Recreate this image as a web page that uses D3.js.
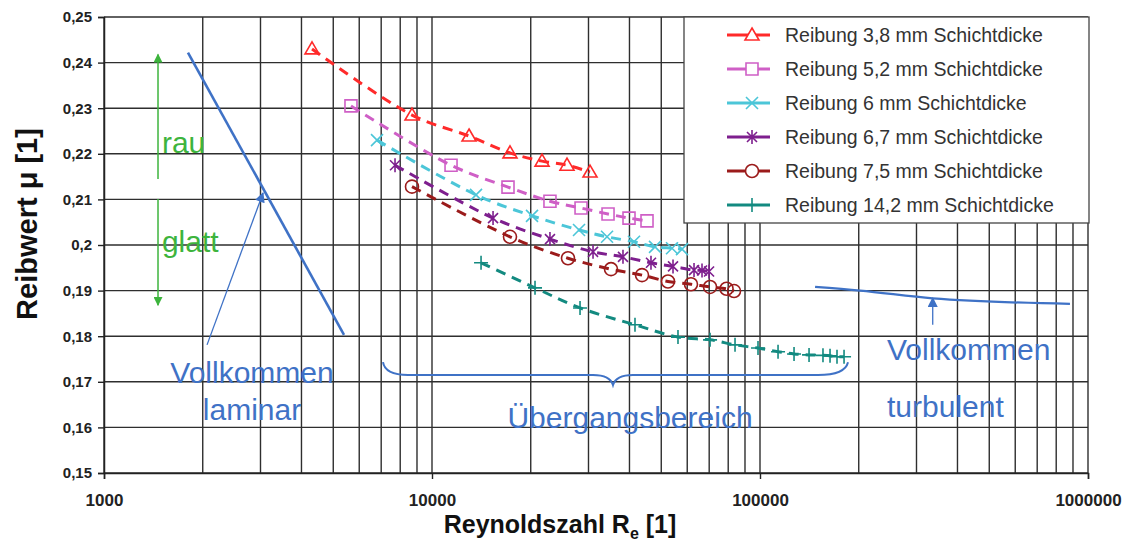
<!DOCTYPE html>
<html><head><meta charset="utf-8">
<script src="https://cdn.jsdelivr.net/npm/d3@7"></script>
<style>
html,body{margin:0;padding:0;background:#fff;}
svg{display:block;font-family:"Liberation Sans",Arial,sans-serif;}
</style></head>
<body>
<svg id="chart" width="1128" height="545"></svg>
<script>
// ---------- data ----------
const seriesNames = ["Reibung 3,8 mm Schichtdicke","Reibung 5,2 mm Schichtdicke","Reibung 6 mm Schichtdicke","Reibung 6,7 mm Schichtdicke","Reibung 7,5 mm Schichtdicke","Reibung 14,2 mm Schichtdicke"];
const re38 = [4307, 8690, 12970, 17290, 21650, 25800, 30320];
const mu38 = [0.2430, 0.2285, 0.2239, 0.2202, 0.2184, 0.2175, 0.2160];
const re52 = [5662, 11430, 17050, 22890, 28470, 34410, 39870, 45240];
const mu52 = [0.2305, 0.2175, 0.2127, 0.2096, 0.2081, 0.2068, 0.2059, 0.2053];
const re60 = [6798, 13620, 20180, 28070, 34170, 41290, 47860, 53920, 57840];
const mu60 = [0.2230, 0.2110, 0.2064, 0.2033, 0.2018, 0.2007, 0.1996, 0.1993, 0.1991];
const re67 = [7714, 15350, 22890, 30970, 38220, 46520, 54300, 62930, 66560, 69930];
const mu67 = [0.2175, 0.2059, 0.2013, 0.1985, 0.1974, 0.1961, 0.1953, 0.1945, 0.1944, 0.1942];
const re75 = [8690, 17290, 25980, 35140, 43680, 52420, 61600, 70420, 79070, 83330];
const mu75 = [0.2128, 0.2018, 0.1971, 0.1947, 0.1934, 0.1920, 0.1914, 0.1908, 0.1904, 0.1899];
const re142 = [14110, 20610, 28270, 41580, 56230, 70420, 83920, 98610, 113500, 126990, 141100, 155600, 163500, 171700, 180400];
const mu142 = [0.1961, 0.1906, 0.1862, 0.1825, 0.1798, 0.1792, 0.1781, 0.1774, 0.1766, 0.1761, 0.1759, 0.1758, 0.1757, 0.1755, 0.1755];

const yTickValues = [0.15,0.16,0.17,0.18,0.19,0.20,0.21,0.22,0.23,0.24,0.25];
const yTickLabels = ["0,15","0,16","0,17","0,18","0,19","0,2","0,21","0,22","0,23","0,24","0,25"];
const xTickValues = [1000,10000,100000,1000000];
const xTickLabels = ["1000","10000","100000","1000000"];

// annotations (data coordinates)
const laminarLine = [[1803,0.2422],[5392,0.1803]];
const laminarArrow = [[2061,0.1781],[3054,0.2114]];
const turbulentLine = [[147200,0.1908],[201800,0.1900],[336200,0.1883],[881000,0.1871]];
const turbulentArrow = [[336200,0.1825],[336200,0.1884]];
const roughSmoothX = 1461;
const roughSmoothY = [0.2418, 0.2145, 0.2101, 0.1868];
const brace = {left:7089, mid:35630, right:185500, top:0.1743, base:0.1715, tip:0.1693};
const annotTexts = [
  {t:"Vollkommen", x:2826, y:0.1697, anchor:"middle", c:"blue"},
  {t:"laminar", x:2826, y:0.1616, anchor:"middle", c:"blue"},
  {t:"Übergangsbereich", x:40150, y:0.1599, anchor:"middle", c:"blue"},
  {t:"Vollkommen", x:243900, y:0.1748, anchor:"start", c:"blue"},
  {t:"turbulent", x:243900, y:0.1623, anchor:"start", c:"blue"},
  {t:"rau", x:1502, y:0.2202, anchor:"start", c:"green"},
  {t:"glatt", x:1502, y:0.1985, anchor:"start", c:"green"}
];

// ---------- setup ----------
const svg = d3.select("#chart");
const L=104, R=1088, T=17, B=473;
const x = d3.scaleLog().domain([1000,1000000]).range([L,R]);
const y = d3.scaleLinear().domain([0.15,0.25]).range([B,T]);
const gridColor = "#2e2e2e";
const blue = "#3f72c6", green = "#3db43d";

// grid verticals (log minor)
const vGrid = [];
for (let d=1000; d<1000000; d*=10) for (let k=1;k<=9;k++) vGrid.push(d*k);
vGrid.push(1000000);
svg.append("g").selectAll("line").data(vGrid).join("line")
  .attr("x1",d=>x(d)).attr("x2",d=>x(d)).attr("y1",T).attr("y2",B)
  .attr("stroke",gridColor).attr("stroke-width",1.4);
svg.append("g").selectAll("line").data(yTickValues).join("line")
  .attr("x1",L).attr("x2",R).attr("y1",d=>y(d)).attr("y2",d=>y(d))
  .attr("stroke",gridColor).attr("stroke-width",1.4);

// axes
const yAxis = d3.axisLeft(y).tickValues(yTickValues).tickFormat((d,i)=>yTickLabels[i]).tickSize(6).tickPadding(6);
const gy = svg.append("g").attr("transform",`translate(${L},0)`).call(yAxis);
gy.select(".domain").attr("stroke","#222").attr("stroke-width",1.5);
gy.selectAll(".tick line").attr("stroke","#222").attr("stroke-width",1.4);
gy.selectAll("text").attr("font-size",15).attr("font-weight","bold").attr("fill","#222")
  .attr("font-family","Liberation Sans, Arial, sans-serif");

const xAxis = d3.axisBottom(x).tickValues(xTickValues).tickFormat((d,i)=>xTickLabels[i]).tickSize(6).tickPadding(15);
const gx = svg.append("g").attr("transform",`translate(0,${B})`).call(xAxis);
gx.select(".domain").attr("stroke","#222").attr("stroke-width",1.5);
gx.selectAll(".tick line").attr("stroke","#222").attr("stroke-width",1.4);
gx.selectAll("text").attr("font-size",17).attr("font-weight","bold").attr("fill","#222")
  .attr("font-family","Liberation Sans, Arial, sans-serif");

// axis titles
svg.append("text").attr("transform",`translate(37,224) rotate(-90)`).attr("text-anchor","middle")
  .attr("font-size",29).attr("font-weight","bold").attr("fill","#111").text("Reibwert  μ [1]");
const xt = svg.append("text").attr("x",560).attr("y",533).attr("text-anchor","middle")
  .attr("font-size",25).attr("font-weight","bold").attr("fill","#111");
xt.append("tspan").text("Reynoldszahl R");
xt.append("tspan").attr("font-size",16).attr("dy",6).text("e");
xt.append("tspan").attr("dy",-6).text(" [1]");

// ---------- annotations ----------
const defs = svg.append("defs");
function arrowMarker(id,color,w,h){
  defs.append("marker").attr("id",id).attr("viewBox","0 0 10 10").attr("refX",9).attr("refY",5)
    .attr("markerWidth",w).attr("markerHeight",h).attr("markerUnits","userSpaceOnUse").attr("orient","auto")
    .append("path").attr("d","M0,0L10,5L0,10z").attr("fill",color);
}
arrowMarker("ab",blue,13,10);
arrowMarker("ag",green,12,9);

const lineGen = d3.line().x(d=>x(d[0])).y(d=>y(d[1]));
svg.append("path").attr("d",lineGen(laminarLine)).attr("stroke",blue).attr("stroke-width",2.6).attr("fill","none");
svg.append("path").attr("d",lineGen(laminarArrow)).attr("stroke",blue).attr("stroke-width",1.3).attr("fill","none").attr("marker-end","url(#ab)");
svg.append("path").attr("d",lineGen.curve(d3.curveMonotoneX)(turbulentLine)).attr("stroke",blue).attr("stroke-width",2.2).attr("fill","none");
lineGen.curve(d3.curveLinear);
svg.append("path").attr("d",lineGen(turbulentArrow)).attr("stroke",blue).attr("stroke-width",1.3).attr("fill","none").attr("marker-end","url(#ab)");
// green double arrow
svg.append("line").attr("x1",x(roughSmoothX)).attr("x2",x(roughSmoothX)).attr("y1",y(roughSmoothY[1])).attr("y2",y(roughSmoothY[0]))
  .attr("stroke",green).attr("stroke-width",1.5).attr("marker-end","url(#ag)");
svg.append("line").attr("x1",x(roughSmoothX)).attr("x2",x(roughSmoothX)).attr("y1",y(roughSmoothY[2])).attr("y2",y(roughSmoothY[3]))
  .attr("stroke",green).attr("stroke-width",1.5).attr("marker-end","url(#ag)");
// brace
{
  const xl=x(brace.left), xm=x(brace.mid), xr=x(brace.right), yt=y(brace.top), yb=y(brace.base), yp=y(brace.tip);
  const p = d3.path();
  p.moveTo(xl,yt);
  p.quadraticCurveTo(xl+2,yb,xl+25,yb);
  p.lineTo(xm-20,yb);
  p.quadraticCurveTo(xm-3,yb,xm,yp);
  p.quadraticCurveTo(xm+3,yb,xm+20,yb);
  p.lineTo(xr-30,yb);
  p.quadraticCurveTo(xr-3,yb,xr,yt);
  svg.append("path").attr("d",p.toString()).attr("stroke",blue).attr("stroke-width",2).attr("fill","none");
}
svg.append("g").selectAll("text").data(annotTexts).join("text")
  .attr("x",d=>x(d.x)).attr("y",d=>y(d.y)).attr("text-anchor",d=>d.anchor)
  .attr("font-size",30).attr("fill",d=>d.c==="blue"?blue:green).text(d=>d.t);

// ---------- series ----------
const series = [
  {name:seriesNames[0], re:re38, mu:mu38, color:"#ff2a2a", m:"triangle"},
  {name:seriesNames[1], re:re52, mu:mu52, color:"#cf5fc6", m:"square"},
  {name:seriesNames[2], re:re60, mu:mu60, color:"#4cc6d8", m:"x"},
  {name:seriesNames[3], re:re67, mu:mu67, color:"#7e1f8e", m:"star"},
  {name:seriesNames[4], re:re75, mu:mu75, color:"#9b1b1b", m:"circle"},
  {name:seriesNames[5], re:re142, mu:mu142, color:"#138a80", m:"plus"}
];
function markerPath(m){
  switch(m){
    case "triangle": return "M0,-7L7,5L-7,5Z";
    case "square": return "M-6,-6H6V6H-6Z";
    case "x": return "M-6,-6L6,6M-6,6L6,-6";
    case "star": return "M-5,-5L5,5M-5,5L5,-5M0,-7V7";
    case "circle": return "M6.5,0A6.5,6.5 0 1,1 -6.5,0A6.5,6.5 0 1,1 6.5,0Z";
    case "plus": return "M0,-7V7M-7,0H7";
  }
}
const sl = d3.line().curve(d3.curveCatmullRom.alpha(0.5)).x(d=>x(d[0])).y(d=>y(d[1]));
series.forEach(s=>{
  const pts = s.re.map((r,i)=>[r,s.mu[i]]);
  svg.append("path").attr("d",sl(pts)).attr("fill","none").attr("stroke",s.color)
    .attr("stroke-width",3).attr("stroke-dasharray","10,7");
  svg.append("g").selectAll("path").data(pts).join("path")
    .attr("transform",d=>`translate(${x(d[0])},${y(d[1])})`).attr("d",markerPath(s.m))
    .attr("fill","none").attr("stroke",s.color).attr("stroke-width",1.6);
});

// ---------- legend ----------
const lg = svg.append("g");
lg.append("rect").attr("x",684).attr("y",17).attr("width",405).attr("height",206)
  .attr("fill","#fff").attr("stroke","#444").attr("stroke-width",1.3);
series.forEach((s,i)=>{
  const cy = 35 + i*34;
  lg.append("line").attr("x1",727).attr("x2",770).attr("y1",cy).attr("y2",cy).attr("stroke",s.color).attr("stroke-width",3);
  lg.append("path").attr("transform",`translate(752,${cy})`).attr("d",markerPath(s.m))
    .attr("fill","#fff").attr("stroke",s.color).attr("stroke-width",1.6);
  lg.append("text").attr("x",785).attr("y",cy+7).attr("font-size",19.5).attr("fill","#333").text(s.name);
});
</script>
</body></html>
